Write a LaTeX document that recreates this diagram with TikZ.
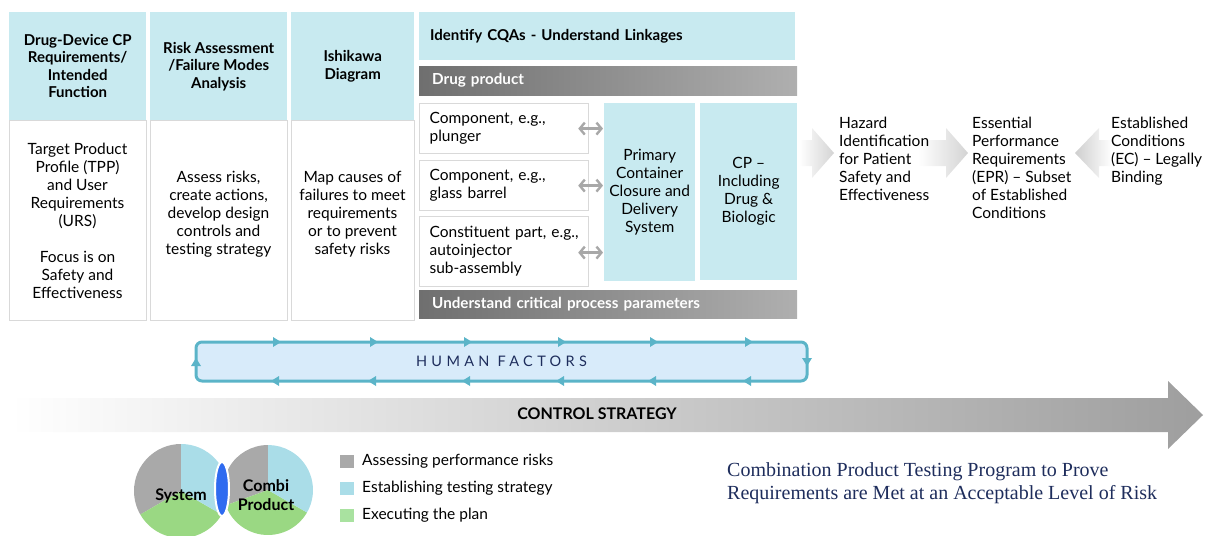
\documentclass[tikz,border=0pt]{standalone}
\usepackage{fontspec}
\setmainfont{Lato}
\newfontfamily\serifbk{Liberation Serif}
\usetikzlibrary{arrows.meta,shapes.geometric}
\definecolor{hdrblue}{HTML}{C8EAF0}
\definecolor{boxgray}{HTML}{D9D9D9}
\definecolor{banddark}{HTML}{6F6F6F}
\definecolor{bandlight}{HTML}{AFAFAF}
\definecolor{hfline}{HTML}{5BB4C8}
\definecolor{hffill}{HTML}{D8EBFA}
\definecolor{navy}{HTML}{1E2D5C}
\definecolor{pgray}{HTML}{A9A9A9}
\definecolor{pblue}{HTML}{AADDE8}
\definecolor{pgreen}{HTML}{9AD883}
\definecolor{lgreen}{HTML}{A9E2A0}
\definecolor{lensblue}{HTML}{2F6BF0}
\definecolor{arrgray}{HTML}{A8A8A8}
\newcommand\hfnt{\bfseries\fontsize{15}{17.5}\selectfont}
\newcommand\bfnt{\fontsize{15.5}{18}\selectfont}
\begin{document}
\begin{tikzpicture}[x=1pt,y=-1pt,
  hdr/.style={fill=hdrblue, inner sep=0pt, anchor=north west, align=center, font=\hfnt},
  bodybox/.style={draw=boxgray, line width=1.2pt, fill=white, inner sep=0pt, anchor=north west},
  bodytxt/.style={align=center, font=\bfnt, inner sep=0pt},
  compbox/.style={draw=boxgray, line width=1.2pt, fill=white, anchor=north west, align=left, font=\bfnt, inner xsep=10pt, inner ysep=0pt, text width=149pt, minimum width=169pt},
  band/.style={left color=banddark, right color=bandlight, anchor=north west, inner xsep=13pt, inner ysep=0pt, text width=352pt, minimum width=378pt, align=left, text=white, font=\bfseries\fontsize{15.2}{17}\selectfont},
  bluebox/.style={fill=hdrblue, anchor=north west, inner sep=0pt, align=center, font=\bfnt},
  dbl/.style={{Straight Barb[length=5pt,width=12pt]}-{Straight Barb[length=5pt,width=12pt]}, draw=arrgray, line width=2.4pt},
  righttxt/.style={anchor=north west, align=left, inner sep=0pt, font=\bfnt},
  tip/.style={fill=hfline},
  legsq/.style={minimum width=14pt, minimum height=13pt, inner sep=0pt},
  legtxt/.style={anchor=west, inner sep=0pt, font=\fontsize{15.5}{17}\selectfont}
]
\useasboundingbox (0,0) rectangle (1206,535);

% ---- columns ----
\node[bodybox, minimum width=137pt, minimum height=200pt] (b1) at (9,120) {};
\node[bodybox, minimum width=137pt, minimum height=200pt] (b2) at (150,120) {};
\node[bodybox, minimum width=123pt, minimum height=200pt] (b3) at (291,120) {};
\node[hdr, minimum width=137pt, minimum height=108pt] (h1) at (9,12) {Drug-Device CP\\Requirements/\\Intended\\Function};
\node[hdr, minimum width=137pt, minimum height=108pt] (h2) at (150,12) {Risk Assessment\\/Failure Modes\\Analysis};
\node[hdr, minimum width=123pt, minimum height=108pt] (h3) at (291,12) {Ishikawa\\Diagram};
\node[bodytxt] (t1) at (77.5,221) {Target Product\\Profile (TPP)\\and User\\Requirements\\(URS)\\[18pt]Focus is on\\Safety and\\Effectiveness};
\node[bodytxt] (t2) at (218.5,214) {Assess risks,\\create actions,\\develop design\\controls and\\testing strategy};
\node[bodytxt] (t3) at (352.5,214) {Map causes of\\failures to meet\\requirements\\or to prevent\\safety risks};

% ---- CQA section ----
\node[hdr, align=left, inner xsep=11pt, text width=354pt, minimum height=48pt] (cqa) at (419,12) {Identify CQAs - Understand Linkages};
\node[band, minimum height=29pt] (dp) at (419,66) {Drug product};
\node[compbox, minimum height=50pt] (c1) at (419,103) {Component, e.g.,\\plunger};
\node[compbox, minimum height=50pt] (c2) at (419,160) {Component, e.g.,\\glass barrel};
\node[compbox, minimum height=70pt] (c3) at (419,216) {Constituent part, e.g.,\\autoinjector\\sub-assembly};
\node[bluebox, minimum width=91pt, minimum height=178pt] (pcc) at (604,103) {Primary\\Container\\Closure and\\Delivery\\System};
\node[bluebox, minimum width=97pt, minimum height=177pt] (cpb) at (700,103) {CP --\\Including\\Drug \&\\Biologic};
\node[band, minimum height=28pt] (ucp) at (419,290) {Understand critical process parameters};
\draw[dbl] ([xshift=-11pt]c1.east) -- ([xshift=-1pt]c1.east -| pcc.west);
\draw[dbl] ([xshift=-11pt]c2.east) -- ([xshift=-1pt]c2.east -| pcc.west);
\draw[dbl] ([xshift=-11pt,yshift=-1pt]c3.east) -- ([xshift=-1pt,yshift=-1pt]c3.east -| pcc.west);

% ---- block arrows ----
\shade[left color=white, right color=black!17] (799,140) -- (812,140) -- (812,128) -- (834,153) -- (812,178) -- (812,166) -- (799,166) -- cycle;
\shade[left color=white, right color=black!17] (918,140) -- (946,140) -- (946,128) -- (968,153) -- (946,178) -- (946,166) -- (918,166) -- cycle;
\shade[left color=black!19, right color=white] (1075,153) -- (1099,128) -- (1099,140) -- (1112,140) -- (1112,166) -- (1099,166) -- (1099,178) -- cycle;

\node[righttxt] (haz) at (839,117) {Hazard\\Identification\\for Patient\\Safety and\\Effectiveness};
\node[righttxt] (epr) at (972,117) {Essential\\Performance\\Requirements\\(EPR) -- Subset\\of Established\\Conditions};
\node[righttxt] (ec) at (1111,117) {Established\\Conditions\\(EC) -- Legally\\Binding};

% ---- human factors ----
\node[draw=hfline, line width=3pt, fill=hffill, rounded corners=6pt, minimum width=611pt, minimum height=39pt, inner sep=0pt,
  font=\fontsize{14.5}{17}\selectfont\addfontfeature{LetterSpace=30}, text=navy] (hf) at (501.5,361.5) {HUMAN FACTORS};
\foreach \x in {276,373,467,561,653,748}{
  \fill[tip] (\x-3,337) -- (\x+5,342) -- (\x-3,347) -- cycle;
  \fill[tip] (\x+3,376) -- (\x-5,381) -- (\x+3,386) -- cycle;
}
\fill[tip] (191,366) -- (196,358) -- (201,366) -- cycle;
\fill[tip] (802,358) -- (807,366) -- (812,358) -- cycle;

% ---- control strategy ----
\shade[left color=white, right color=black!38] (10,398) -- (1168,398) -- (1168,381) -- (1203,415) -- (1168,449) -- (1168,432) -- (10,432) -- cycle;
\node[font=\bfseries\fontsize{16}{18}\selectfont, inner sep=0pt] (cs) at (597,414) {CONTROL STRATEGY};

% ---- pies ----
\begin{scope}[shift={(181,491)}, y=1pt]
  \fill[pgray] (0,0) -- (90:47) arc[start angle=90,end angle=210,radius=47] -- cycle;
  \fill[pgreen] (0,0) -- (210:47) arc[start angle=210,end angle=330,radius=47] -- cycle;
  \fill[pblue] (0,0) -- (-30:47) arc[start angle=-30,end angle=90,radius=47] -- cycle;
\end{scope}
\begin{scope}[shift={(268,490)}, y=1pt]
  \fill[pgray] (0,0) -- (90:45) arc[start angle=90,end angle=200,radius=45] -- cycle;
  \fill[pgreen] (0,0) -- (200:45) arc[start angle=200,end angle=330,radius=45] -- cycle;
  \fill[pblue] (0,0) -- (-30:45) arc[start angle=-30,end angle=90,radius=45] -- cycle;
\end{scope}
\node[ellipse, draw=white, line width=2pt, fill=lensblue, minimum width=14pt, minimum height=54pt, inner sep=0pt] (lens) at (222,489) {};
\node[font=\bfseries\fontsize{16}{18}\selectfont, inner sep=0pt] (sys) at (181,496) {System};
\node[font=\bfseries\fontsize{16}{19}\selectfont, align=center, inner sep=0pt] (combi) at (266,495) {Combi\\Product};

% ---- legend ----
\node[legsq, fill=pgray] (l1) at (347,461) {};
\node[legsq, fill=pblue] (l2) at (347,488) {};
\node[legsq, fill=lgreen] (l3) at (347,515) {};
\node[legtxt] (lt1) at (362,461) {Assessing performance risks};
\node[legtxt] (lt2) at (362,488) {Establishing testing strategy};
\node[legtxt] (lt3) at (362,515) {Executing the plan};

% ---- program text ----
\node[anchor=north west, align=left, inner sep=0pt, text=navy, font=\serifbk\fontsize{20}{23}\selectfont] (prog) at (727,462) {Combination Product Testing Program to Prove\\Requirements are Met at an Acceptable Level of Risk};
\end{tikzpicture}
\end{document}
